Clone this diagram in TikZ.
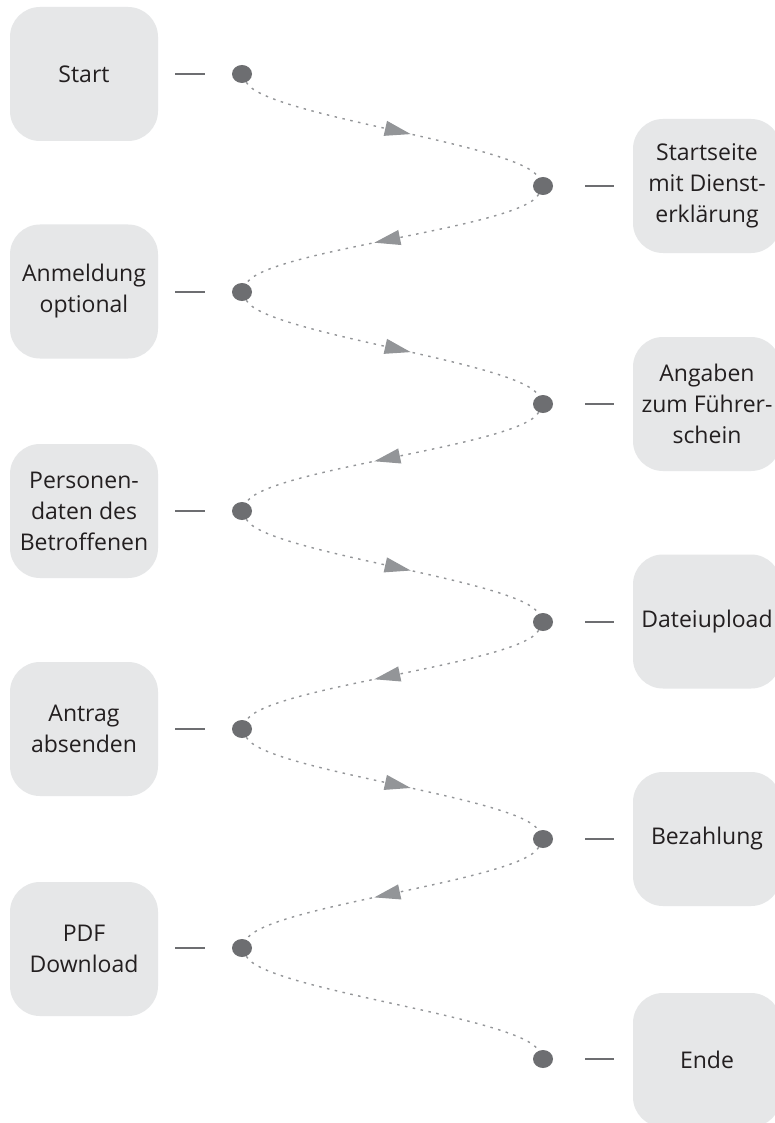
\documentclass[tikz,border=0pt]{standalone}
\usepackage{fontspec}
\setmainfont{Open Sans}
\usetikzlibrary{shapes.geometric,arrows.meta,decorations.markings}
\definecolor{boxgray}{HTML}{E6E7E8}
\definecolor{dotgray}{HTML}{6D6E71}
\definecolor{flowgray}{HTML}{939598}
\definecolor{txt}{HTML}{231F20}
\begin{document}
\begin{tikzpicture}[x=1pt,y=-1pt,
 stepbox/.style={fill=boxgray, rounded corners=30pt, minimum width=148pt, minimum height=134pt, align=center, text=txt, font=\fontsize{23}{31}\selectfont, inner sep=0pt},
 knot/.style={ellipse, fill=dotgray, minimum width=20pt, minimum height=18pt, inner sep=0pt},
 tickl/.style={draw=dotgray, line width=2.2pt, shorten <=17pt, shorten >=27pt},
 tickr/.style={draw=dotgray, line width=2.2pt, shorten <=32pt, shorten >=19pt},
 flow/.style={draw=flowgray, line width=1.4pt, dash pattern=on 2.5pt off 5.5pt},
 midarrow/.style={postaction={decorate}, decoration={markings, mark=at position 0.56 with {\arrow[flowgray]{Triangle[length=26pt,width=15pt]}}}}
]
\clip (0,0) rectangle (775,1123);
\fill[white] (0,0) rectangle (775,1123);
% left boxes
\node[stepbox] (b1) at (84,74) {Start};
\node[stepbox] (b3) at (84,291.5) {Anmeldung\\optional};
\node[stepbox] (b5) at (84,511) {Personen-\\daten des\\Betroffenen};
\node[stepbox] (b7) at (84,729) {Antrag\\absenden};
\node[stepbox] (b9) at (84,949) {PDF\\Download};
% right boxes
\node[stepbox] (b2) at (707,186) {Startseite\\mit Dienst-\\erklärung};
\node[stepbox] (b4) at (707,404) {Angaben\\zum Führer-\\schein};
\node[stepbox] (b6) at (707,621.5) {Dateiupload};
\node[stepbox] (b8) at (707,839) {Bezahlung};
\node[stepbox] (b10) at (707,1060) {Ende};
% knots
\node[knot] (k1) at (242,74) {};
\node[knot] (k3) at (242,292) {};
\node[knot] (k5) at (242,511) {};
\node[knot] (k7) at (242,729) {};
\node[knot] (k9) at (242,948) {};
\node[knot] (k2) at (543,186) {};
\node[knot] (k4) at (543,404) {};
\node[knot] (k6) at (543,622) {};
\node[knot] (k8) at (543,839) {};
\node[knot] (k10) at (543,1059) {};
% ticks
\foreach \i in {1,3,5,7,9} \draw[tickl] (b\i.east |- k\i) -- (k\i.west);
\foreach \i in {2,4,6,8,10} \draw[tickr] (k\i.east) -- (k\i -| b\i.west);
% flow curves
\draw[flow,midarrow] (k1) .. controls +(22,42) and +(-22,-42) .. (k2);
\draw[flow,midarrow] (k2) .. controls +(-22,42) and +(22,-42) .. (k3);
\draw[flow,midarrow] (k3) .. controls +(22,42) and +(-22,-42) .. (k4);
\draw[flow,midarrow] (k4) .. controls +(-22,42) and +(22,-42) .. (k5);
\draw[flow,midarrow] (k5) .. controls +(22,42) and +(-22,-42) .. (k6);
\draw[flow,midarrow] (k6) .. controls +(-22,42) and +(22,-42) .. (k7);
\draw[flow,midarrow] (k7) .. controls +(22,42) and +(-22,-42) .. (k8);
\draw[flow,midarrow] (k8) .. controls +(-22,42) and +(22,-42) .. (k9);
\draw[flow] (k9) .. controls +(22,42) and +(-22,-42) .. (k10);
\end{tikzpicture}
\end{document}
